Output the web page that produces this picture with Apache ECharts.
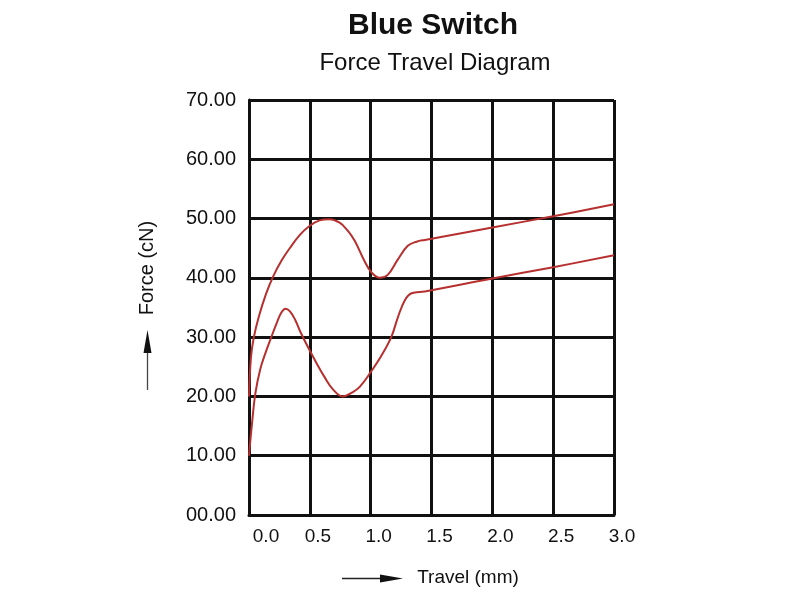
<!DOCTYPE html>
<html>
<head>
<meta charset="utf-8">
<script src="https://cdn.jsdelivr.net/npm/echarts@6/dist/echarts.min.js"></script>
<style>html,body{margin:0;padding:0;background:#fff;}#c{width:800px;height:600px;}</style>
</head>
<body>
<div id="c"></div>
<script>
// ---- data ----
var titleText = 'Blue Switch';
var subTitleText = 'Force Travel Diagram';
var xName = 'Travel (mm)';
var yName = 'Force (cN)';
var xTicks = [0, 0.5, 1.0, 1.5, 2.0, 2.5, 3.0];
var yTicks = [0, 10, 20, 30, 40, 50, 60, 70];

var upperTravel = [0, 0.016, 0.04, 0.08, 0.14, 0.20, 0.27, 0.335, 0.42, 0.50, 0.58, 0.66, 0.745, 0.81, 0.87, 0.95, 1.007, 1.075, 1.14, 1.22, 1.305, 1.377, 1.445, 2.0, 2.5, 3.0];
var upperForce  = [20.0, 26.6, 30.0, 33.4, 37.3, 40.3, 43.0, 45.0, 47.3, 48.8, 49.7, 49.9, 49.3, 48.0, 46.2, 42.8, 40.9, 40.0, 40.5, 43.0, 45.4, 46.1, 46.4, 48.5, 50.4, 52.4];

var lowerTravel = [0, 0.025, 0.053, 0.094, 0.135, 0.176, 0.23, 0.265, 0.30, 0.335, 0.38, 0.42, 0.48, 0.55, 0.62, 0.69, 0.77, 0.85, 0.91, 1.007, 1.089, 1.171, 1.223, 1.28, 1.336, 1.445, 2.0, 2.5, 3.0];
var lowerForce  = [10.0, 15.5, 20.6, 24.7, 27.3, 29.6, 32.5, 34.1, 34.8, 34.4, 32.9, 31.0, 28.5, 25.8, 23.3, 21.2, 20.0, 20.7, 21.6, 24.3, 26.9, 30.1, 33.3, 36.2, 37.4, 37.7, 39.9, 41.8, 43.8];

function pairs(xs, ys) { return xs.map(function (x, i) { return [x, ys[i]]; }); }

var chart = echarts.init(document.getElementById('c'), null, {renderer: 'canvas'});
var font = 'Liberation Sans, Arial, Helvetica, sans-serif';
var red = '#b5302f';
var ink = '#111111';

var option = {
  backgroundColor: '#ffffff',
  animation: false,
  title: [
    {text: titleText, left: 428, top: 6, textAlign: 'center',
     textStyle: {fontFamily: font, fontSize: 30, fontWeight: 'bold', color: ink}},
    {text: subTitleText, left: 430, top: 46, textAlign: 'center',
     textStyle: {fontFamily: font, fontSize: 24, fontWeight: 'normal', color: ink}}
  ],
  grid: {left: 249, right: 186, top: 100, bottom: 85, containLabel: false},
  xAxis: {
    type: 'value', min: xTicks[0], max: xTicks[xTicks.length - 1], interval: 0.5,
    axisLine: {show: true, lineStyle: {color: ink, width: 3}},
    axisTick: {show: false},
    splitLine: {show: true, lineStyle: {color: ink, width: 3}},
    axisLabel: {
      margin: 12,
      formatter: function (v) { return (v === 0 ? '{a|' : '{b|') + v.toFixed(1) + '}'; },
      rich: {
        a: {fontFamily: font, fontSize: 19, color: ink, padding: [0, 0, 0, 34]},
        b: {fontFamily: font, fontSize: 19, color: ink, padding: [0, 0, 0, 16]}
      }
    }
  },
  yAxis: {
    type: 'value', min: yTicks[0], max: yTicks[yTicks.length - 1], interval: 10,
    axisLine: {show: true, lineStyle: {color: ink, width: 3}},
    axisTick: {show: false},
    splitLine: {show: true, lineStyle: {color: ink, width: 3}},
    axisLabel: {
      margin: 13, fontFamily: font, fontSize: 20, color: ink,
      formatter: function (v) { return (v < 10 ? '0' : '') + v.toFixed(2); }
    }
  },
  graphic: [
    {type: 'text', x: 147, y: 268, rotation: Math.PI / 2,
     style: {text: yName, fontFamily: font, fontSize: 20, fill: ink, textAlign: 'center', textVerticalAlign: 'middle'}},
    {type: 'line', shape: {x1: 147.5, y1: 390, x2: 147.5, y2: 345}, style: {stroke: '#444', lineWidth: 1.3}},
    {type: 'polygon', shape: {points: [[147.5, 330], [143.5, 353], [151.5, 353]]}, style: {fill: ink}},
    {type: 'text', x: 468, y: 578,
     style: {text: xName, fontFamily: font, fontSize: 19, fill: ink, textAlign: 'center', textVerticalAlign: 'middle'}},
    {type: 'line', shape: {x1: 342, y1: 578.5, x2: 390, y2: 578.5}, style: {stroke: '#222', lineWidth: 1.3}},
    {type: 'polygon', shape: {points: [[403, 578.5], [380, 574.5], [380, 582.5]]}, style: {fill: ink}}
  ],
  series: [
    {type: 'line', name: 'upper', data: pairs(upperTravel, upperForce), showSymbol: false,
     smooth: 0.4, lineStyle: {color: red, width: 2}, z: 5},
    {type: 'line', name: 'lower', data: pairs(lowerTravel, lowerForce), showSymbol: false,
     smooth: 0.4, lineStyle: {color: red, width: 2}, z: 5}
  ]
};
chart.setOption(option);
</script>
</body>
</html>
